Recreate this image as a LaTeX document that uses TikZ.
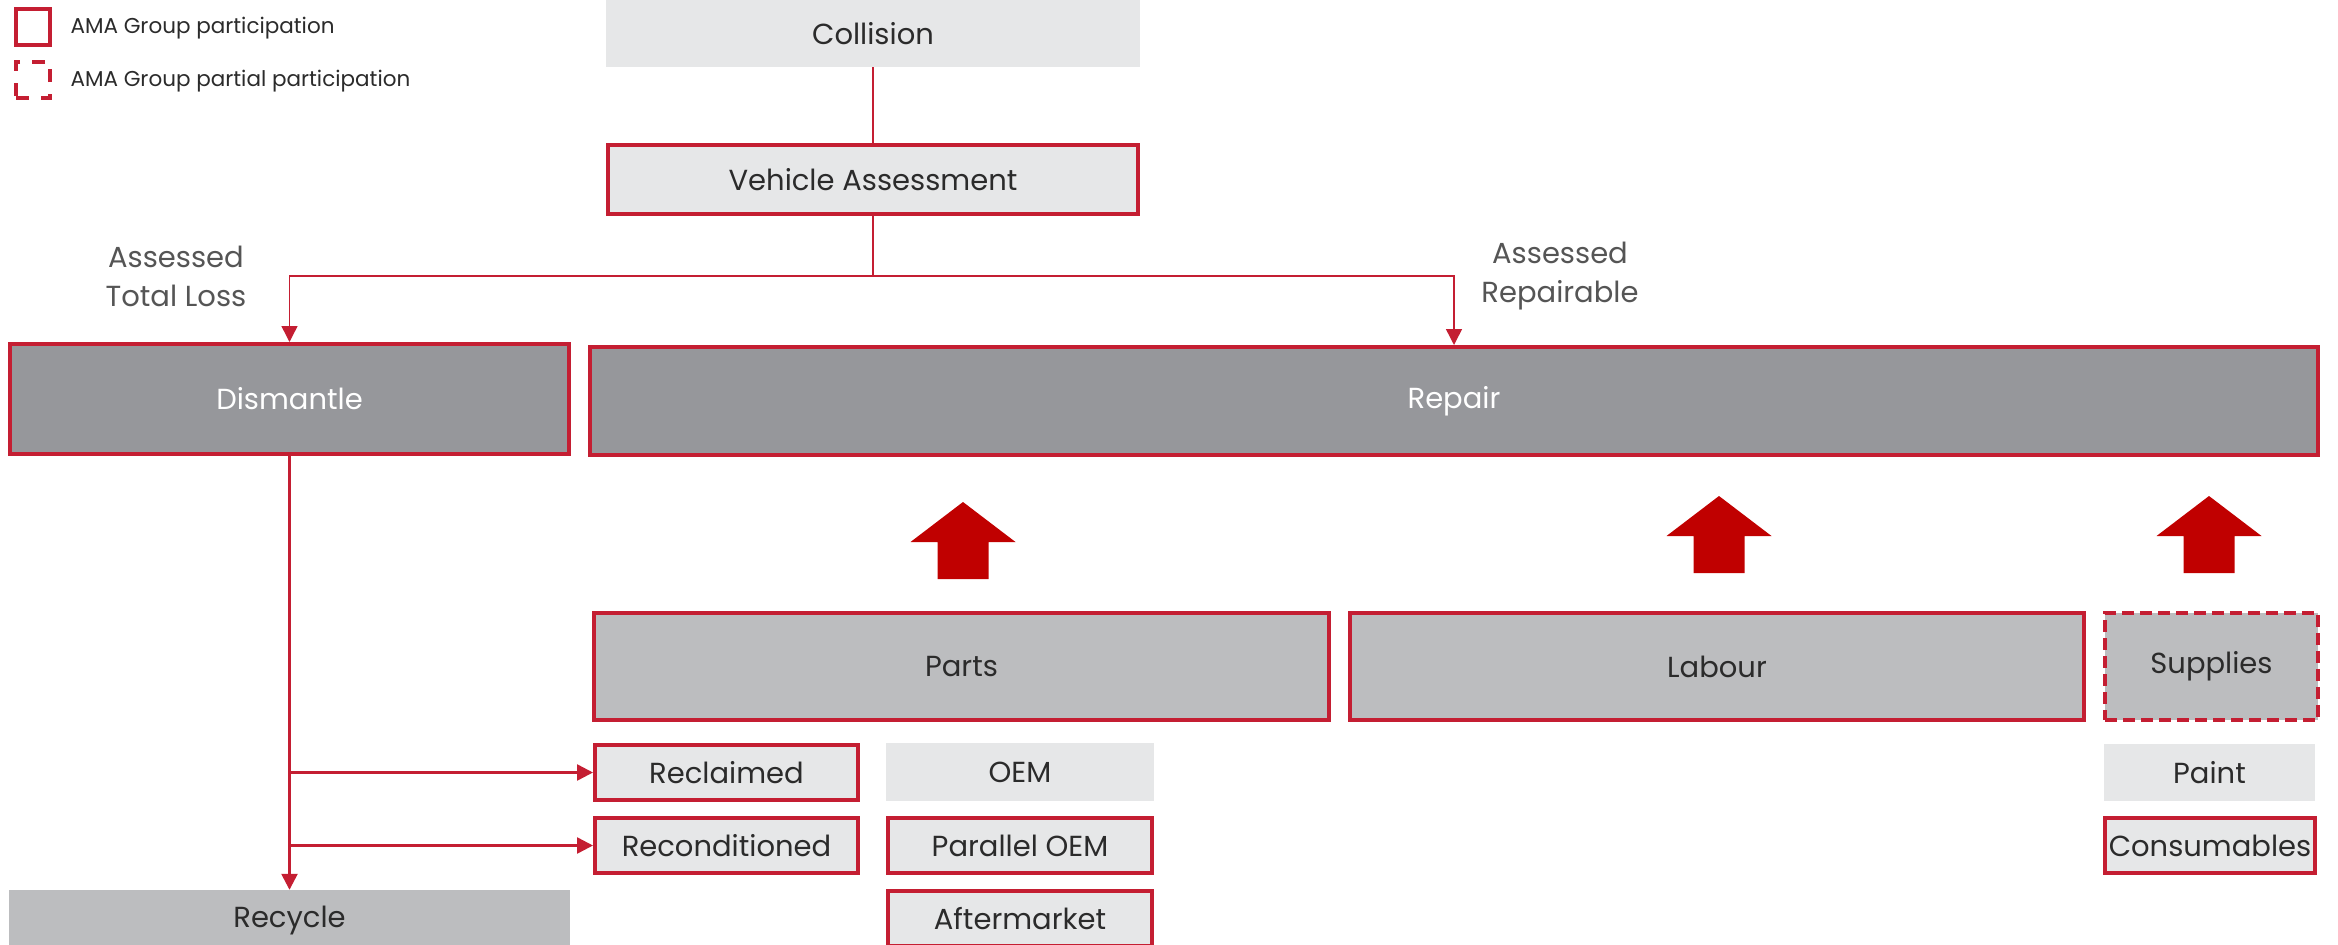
\documentclass[tikz,border=0pt]{standalone}
\usepackage{fontspec}
\setmainfont{Poppins}
\usetikzlibrary{arrows.meta}
\definecolor{amared}{HTML}{C41E32}
\definecolor{arrowred}{HTML}{C00000}
\definecolor{darkgrey}{HTML}{96979B}
\definecolor{midgrey}{HTML}{BCBDBF}
\definecolor{lightgrey}{HTML}{E6E7E8}
\definecolor{textgrey}{HTML}{2B2B2B}
\definecolor{labelgrey}{HTML}{555555}
\begin{document}
\begin{tikzpicture}[x=1pt,y=-1pt,
  box/.style={rectangle, inner sep=0pt, anchor=center, text=textgrey,
    font=\fontsize{29}{34}\selectfont},
  plainbox/.style={box, fill=lightgrey},
  ownbox/.style={box, fill=lightgrey, draw=amared, line width=4pt},
  bigbox/.style={box, fill=darkgrey, draw=amared, line width=4pt, text=white},
  midbox/.style={box, fill=midgrey, draw=amared, line width=4pt},
  partialbox/.style={box, fill=midgrey, draw=amared, line width=4pt, dash pattern=on 12pt off 6pt},
  conn/.style={draw=amared, line width=2pt},
  tipped/.style={conn, -{Triangle[length=16pt,width=16pt]}},
  lbl/.style={align=center, text=labelgrey, font=\fontsize{29}{39}\selectfont},
  legtxt/.style={anchor=west, text=textgrey, font=\fontsize{21.5}{24}\selectfont},
  uparrow/.pic={\fill[arrowred] (-25.5,0) -- (25.5,0) -- (25.5,-37) -- (52.5,-37) -- (0,-77) -- (-52.5,-37) -- (-25.5,-37) -- cycle;}
]
\useasboundingbox (0,0) rectangle (2338,945);

% legend
\node[box, draw=amared, line width=4pt, minimum width=34pt, minimum height=36pt] (leg1) at (33,27) {};
\node[legtxt] (leg1t) at (67,28) {AMA Group participation};
\node[box, draw=amared, line width=4pt, dash pattern=on 13pt off 12pt, minimum width=34pt, minimum height=36pt] (leg2) at (33,80) {};
\node[legtxt] (leg2t) at (67,81) {AMA Group partial participation};

% top
\node[plainbox, minimum width=534pt, minimum height=67pt] (col) at (873,33.5) {Collision};
\node[ownbox, minimum width=530pt, minimum height=69pt] (va) at (873,179.5) {Vehicle Assessment};

\node[lbl] (ltl) at (176,276) {Assessed\\Total Loss};
\node[lbl] (lrp) at (1560,276) {Assessed\\Repairable};

\node[bigbox, minimum width=559pt, minimum height=110pt] (dism) at (289.5,399) {Dismantle};
\node[bigbox, minimum width=1728pt, minimum height=108pt] (rep) at (1454,401) {Repair};

% second level
\node[midbox, minimum width=735pt, minimum height=107pt] (parts) at (961.5,666.5) {Parts};
\node[midbox, minimum width=734pt, minimum height=107pt] (lab) at (1717,666.5) {Labour};
\node[partialbox, minimum width=213pt, minimum height=107pt] (sup) at (2211.5,666.5) {Supplies};

% parts children
\node[ownbox, minimum width=263pt, minimum height=55pt] (recl) at (726.5,772.5) {Reclaimed};
\node[ownbox, minimum width=263pt, minimum height=55pt] (reco) at (726.5,845.5) {Reconditioned};
\node[plainbox, minimum width=268pt, minimum height=58pt] (oem) at (1020,772) {OEM};
\node[ownbox, minimum width=264pt, minimum height=55pt] (poem) at (1020,845.5) {Parallel OEM};
\node[ownbox, minimum width=264pt, minimum height=55pt] (aft) at (1020,918.5) {Aftermarket};

% supplies children
\node[plainbox, minimum width=211pt, minimum height=57pt] (paint) at (2209.5,772.5) {Paint};
\node[ownbox, minimum width=210pt, minimum height=55pt] (cons) at (2210,845.5) {Consumables};

% recycle
\node[box, fill=midgrey, minimum width=561pt, minimum height=60pt] (recy) at (289.5,920) {Recycle};

% connectors
\coordinate (jn) at (873,276);
\draw[conn, line width=1.5pt] (col.south) -- (va.north);
\draw[conn, line width=1.5pt] (va.south) -- (jn);
\draw[tipped, line width=1.5pt] (jn) -| (dism.north);
\draw[tipped, line width=1.5pt] (jn) -| (rep.north);

\draw[tipped, line width=2.5pt] (dism.south) -- (recy.north);
\coordinate (b1) at (dism.south |- recl.west);
\coordinate (b2) at (dism.south |- reco.west);
\draw[tipped, line width=2.5pt] (b1) -- (recl.west);
\draw[tipped, line width=2.5pt] (b2) -- (reco.west);

% block arrows
\pic at (963,579) {uparrow};
\pic at (1719,573) {uparrow};
\pic at (2209,573) {uparrow};
\end{tikzpicture}
\end{document}
